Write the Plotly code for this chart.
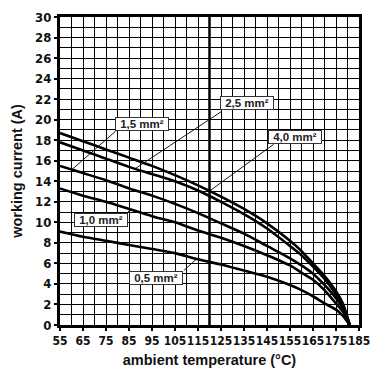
import numpy as np
import plotly.graph_objects as go

temps = [55, 65, 75, 85, 95, 105, 115, 125, 135, 145, 155, 160, 165, 170, 175, 178, 181]
i_40 = [18.7, 17.9, 17.1, 16.3, 15.5, 14.6, 13.6, 12.5, 11.3, 9.9, 8.2, 7.2, 6.0, 4.8, 3.3, 2.1, 0]
i_25 = [17.8, 17.0, 16.2, 15.4, 14.7, 14.0, 13.1, 12.0, 10.8, 9.4, 7.7, 6.8, 5.7, 4.5, 3.0, 1.9, 0]
i_15 = [15.5, 14.8, 14.1, 13.3, 12.6, 11.8, 10.9, 9.9, 8.9, 7.7, 6.5, 5.8, 5.0, 3.9, 2.6, 1.6, 0]
i_10 = [13.3, 12.6, 12.0, 11.3, 10.6, 10.0, 9.2, 8.5, 7.7, 6.8, 5.8, 5.1, 4.4, 3.4, 2.1, 1.3, 0]
i_05 = [9.1, 8.6, 8.2, 7.8, 7.4, 7.0, 6.4, 5.9, 5.3, 4.7, 3.9, 3.4, 2.8, 2.1, 1.5, 0.9, 0]

series = [("4,0 mm²", i_40), ("2,5 mm²", i_25), ("1,5 mm²", i_15), ("1,0 mm²", i_10), ("0,5 mm²", i_05)]

# label box centre (T, I), leader tail (T, I), leader head temperature on curve
labels = {
    "1,5 mm²": ((90.7, 19.6), (79.8, 19.0), 60.2),
    "2,5 mm²": ((136.5, 21.6), (125.9, 20.9), 87.6),
    "4,0 mm²": ((157.2, 18.3), (148.5, 17.7), 120.0),
    "1,0 mm²": ((72.9, 10.2), (83.8, 10.9), 86.0),
    "0,5 mm²": ((96.7, 4.6), (108.3, 5.2), 114.4),
}

fig = go.Figure()
for name, vals in series:
    fig.add_trace(go.Scatter(x=temps, y=vals, mode="lines", name=name,
                             line=dict(color="black", width=2.6, shape="spline", smoothing=0.6),
                             showlegend=False, hoverinfo="skip"))

annotations = []
for name, vals in series:
    (cx, cy), (tx, ty), ht = labels[name]
    hy = float(np.interp(ht, temps, vals))
    annotations.append(dict(x=ht, y=hy, ax=tx, ay=ty, axref="x", ayref="y", xref="x", yref="y",
                            text="", showarrow=True, arrowhead=0, arrowwidth=0.9, arrowcolor="black",
                            standoff=0, startstandoff=0))
    annotations.append(dict(x=cx, y=cy, xref="x", yref="y", text="<b>%s</b>" % name, showarrow=False,
                            font=dict(family="Liberation Sans, Arial, sans-serif", size=11.5, color="#222"),
                            bgcolor="white", bordercolor="#333", borderwidth=1, borderpad=0,
                            width=52, height=12))

fig.add_shape(type="line", x0=120, x1=120, y0=0, y1=30, xref="x", yref="y",
              line=dict(color="black", width=2.5), layer="below")

xtickfont = dict(family="Liberation Sans Narrow, DejaVu Sans Condensed, Arial Narrow, sans-serif",
                 size=12, color="#111", weight="bold")
ytickfont = dict(family="Liberation Sans Narrow, DejaVu Sans Condensed, Arial Narrow, sans-serif",
                 size=13, color="#111", weight="bold")
titlefont = dict(family="Liberation Sans, Arial, sans-serif", size=14.5, color="#111")
fig.update_layout(
    width=380, height=380,
    margin=dict(l=60, r=21, t=17, b=55),
    paper_bgcolor="white", plot_bgcolor="white",
    annotations=annotations,
    xaxis=dict(range=[55, 185], tick0=55, dtick=10, showgrid=True, gridcolor="black", gridwidth=1,
               minor=dict(tick0=55, dtick=5, showgrid=True, gridcolor="black", gridwidth=1),
               showline=True, linecolor="black", linewidth=3, mirror=True,
               ticks="outside", ticklen=3, tickwidth=2, tickcolor="black", tickangle=0,
               tickfont=xtickfont, zeroline=False, automargin=False,
               title=dict(text="<b>ambient temperature (°C)</b>", standoff=8, font=titlefont)),
    yaxis=dict(range=[0, 30], tick0=0, dtick=2, showgrid=True, gridcolor="black", gridwidth=1,
               minor=dict(tick0=0, dtick=1, showgrid=True, gridcolor="black", gridwidth=1),
               showline=True, linecolor="black", linewidth=3, mirror=True,
               ticks="outside", ticklen=3, tickwidth=2, tickcolor="black",
               tickfont=ytickfont, zeroline=False, automargin=False,
               title=dict(text="<b>working current (A)</b>", standoff=10, font=titlefont)),
)

fig.write_html("out.html", config={"displayModeBar": False},
               post_script="document.body.style.margin='0';")
